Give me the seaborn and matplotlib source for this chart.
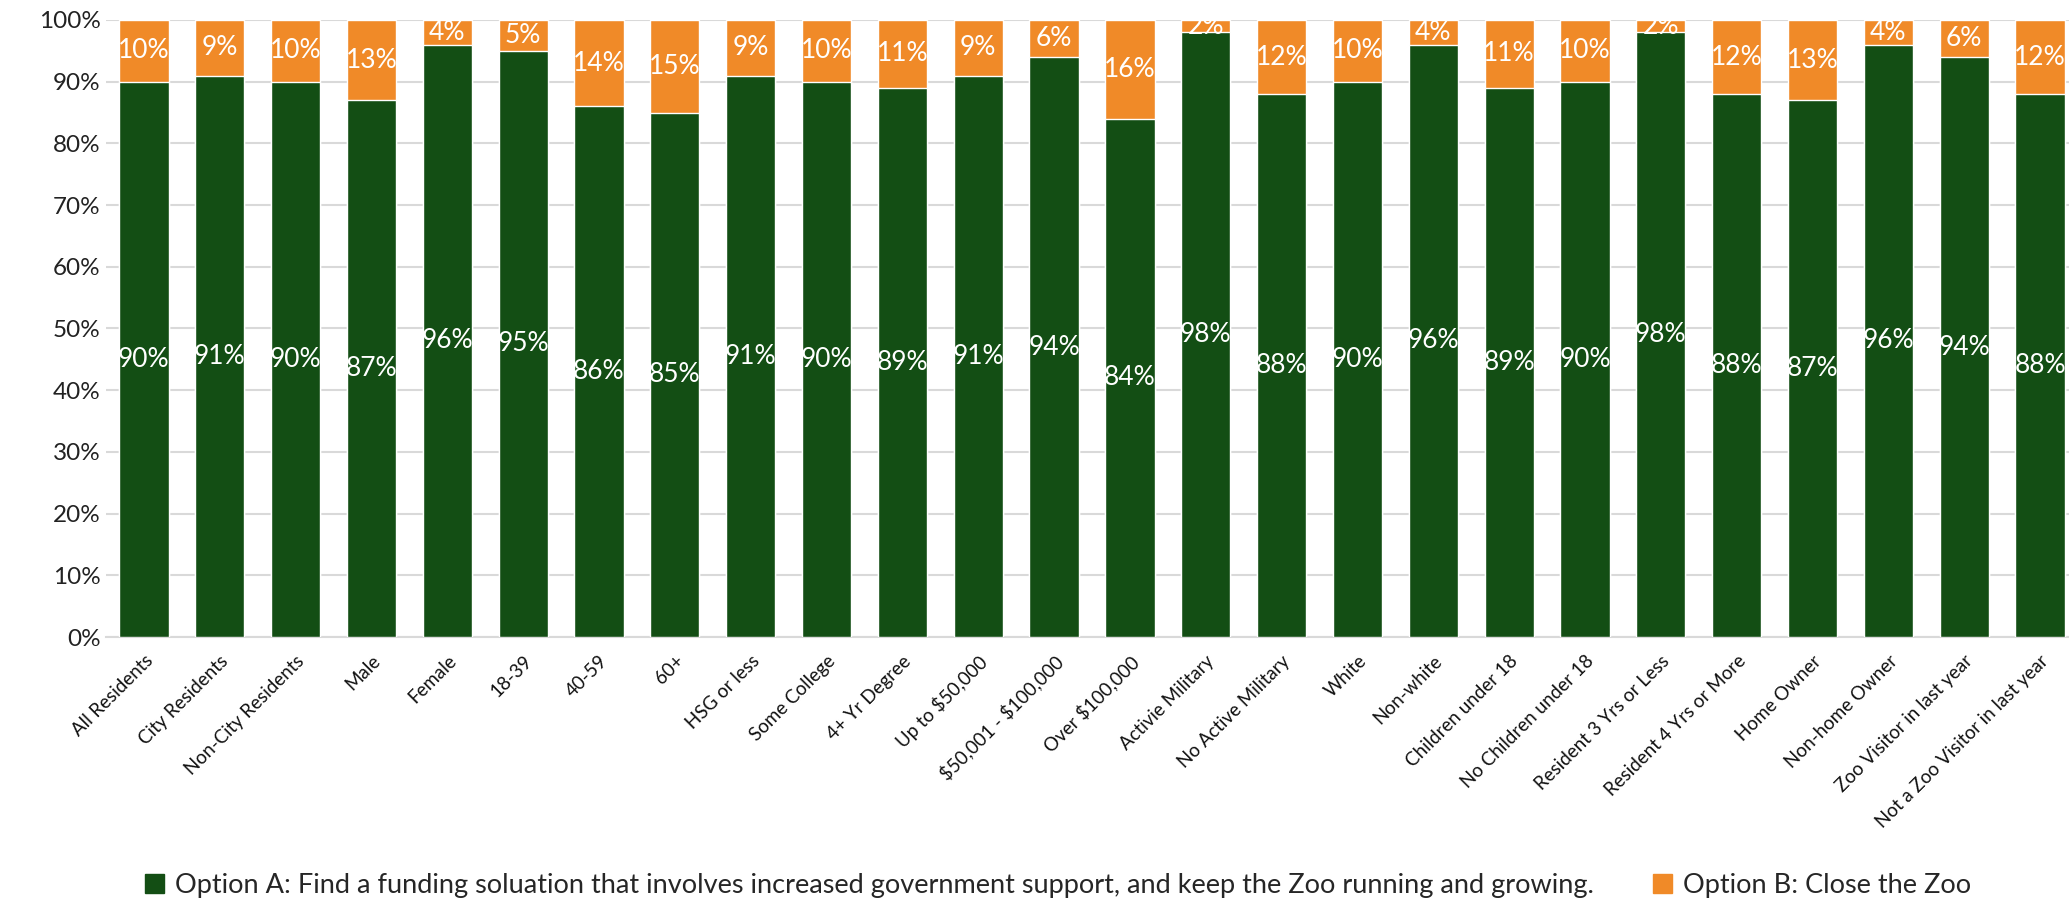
import numpy as np
import matplotlib
matplotlib.use('Agg')
import matplotlib.pyplot as plt
from matplotlib.patches import Patch
import seaborn as sns

# survey groups
categories = ["All Residents", "City Residents", "Non-City Residents", "Male", "Female",
              "18-39", "40-59", "60+", "HSG or less", "Some College", "4+ Yr Degree",
              "Up to $50,000", "$50,001 - $100,000", "Over $100,000", "Activie Military",
              "No Active Military", "White", "Non-white", "Children under 18",
              "No Children under 18", "Resident 3 Yrs or Less", "Resident 4 Yrs or More",
              "Home Owner", "Non-home Owner", "Zoo Visitor in last year",
              "Not a Zoo Visitor in last year"]
option_a = [90, 91, 90, 87, 96, 95, 86, 85, 91, 90, 89, 91, 94, 84, 98, 88, 90, 96, 89, 90, 98, 88, 87, 96, 94, 88]
option_b = [10, 9, 10, 13, 4, 5, 14, 15, 9, 10, 11, 9, 6, 16, 2, 12, 10, 4, 11, 10, 2, 12, 13, 4, 6, 12]
yticks = [0, 10, 20, 30, 40, 50, 60, 70, 80, 90, 100]
legend_labels = ["Option A: Find a funding soluation that involves increased government support, and keep the Zoo running and growing.",
                 "Option B: Close the Zoo"]

green = "#134E14"
orange = "#F08A28"

sns.set_theme(style="white")
plt.rcParams['font.family'] = ['Lato', 'DejaVu Sans']

a = np.array(option_a)
b = np.array(option_b)
totals = a + b
labels = [c.replace('$', r'\$') for c in categories]

fig = plt.figure(figsize=(20.69, 9.0), dpi=100)
ax = fig.add_axes([106 / 2069, 263 / 900, (2078 - 106) / 2069, 617 / 900])

# orange = full stack, green drawn over it
sns.barplot(x=labels, y=totals, color=orange, saturation=1, width=0.65, ax=ax, zorder=2)
sns.barplot(x=labels, y=a, color=green, saturation=1, width=0.65, ax=ax, zorder=3)

for i in range(len(categories)):
    ax.text(i, a[i] / 2, f"{a[i]}%", ha='center', va='center', color='white', fontsize=19, zorder=4)
    ax.text(i, a[i] + b[i] / 2, f"{b[i]}%", ha='center', va='center', color='white', fontsize=19, zorder=4)

ax.set_xlim(-0.5, len(categories) - 0.5)
ax.set_ylim(0, 100)
ax.set_yticks(yticks)
ax.set_yticklabels([f"{t}%" for t in yticks], fontsize=17.5, color='#222222')
ax.yaxis.grid(True, color='#D9D9D9', linewidth=1.5, zorder=0)
ax.set_axisbelow(True)
ax.tick_params(axis='y', length=0, pad=4)
ax.tick_params(axis='x', length=0, pad=11)
plt.setp(ax.get_xticklabels(), rotation=45, ha='right', rotation_mode='anchor', fontsize=13.5, color='#111111')
for s in ['top', 'right', 'left']:
    ax.spines[s].set_visible(False)
ax.spines['bottom'].set_color('#D9D9D9')
ax.spines['bottom'].set_linewidth(1.5)

handles = [Patch(color=green), Patch(color=orange)]
fig.legend(handles, legend_labels, loc='center', bbox_to_anchor=(1058 / 2069, 1 - 885 / 900),
           ncol=2, frameon=False, fontsize=19.5, handlelength=0.7, handleheight=0.7,
           handletextpad=0.4, columnspacing=2.2, borderpad=0)

fig.savefig("out.png", dpi=100)
